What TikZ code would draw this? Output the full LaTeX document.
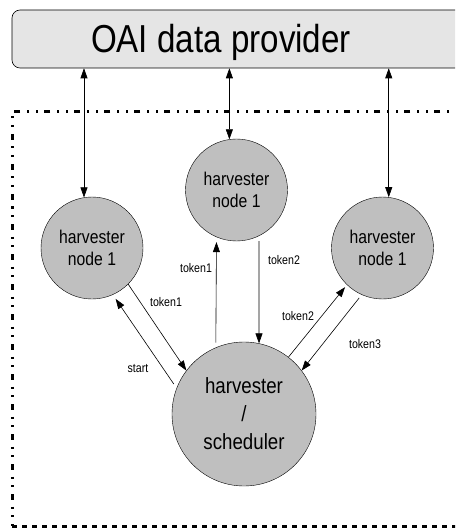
\documentclass[tikz,border=0pt]{standalone}
\usepackage{fontspec}
\setmainfont{Liberation Sans}[FakeStretch=0.85]
\usepackage {tikz}
\usetikzlibrary {arrows.meta}

\begin{document}
\begin{tikzpicture}[x=1pt ,y=-1pt ,semithick ,
    >={Triangle[length=10pt ,width=7pt]} ,
    provider/.style ={rectangle ,rounded corners =8pt ,draw ,
    fill =black!10 ,minimum width =458pt ,minimum height =58pt} ,
    harvester/.style ={circle ,draw ,fill =black!25 ,thin ,
    minimum size =102pt ,align =center ,
    font =\fontsize{18.5}{22}\selectfont} ,
    scheduler/.style ={harvester ,minimum size =144pt ,
    font =\fontsize{22}{28}\selectfont} ,
    msg/.style ={font =\fontsize{12.5}{14}\selectfont ,inner sep =0pt} ,
    link/.style ={->} ,
    frame/.style ={line width =3pt}
    ]
\clip (0,0) rectangle (455,529);

\node[provider] (prov) at (241,39) {};
\node[anchor =base ,font =\fontsize{39}{44}\selectfont] (provtext) at (221,53) {OAI data provider};

% group of harvesters
\draw[frame ,dash pattern =on 6pt off 6.5pt on 2pt off 6.5pt on 2pt off 7pt]
    (470,112) -- (12,112) -- (12,526);
\draw[frame ,dash pattern =on 5pt off 5pt] (12,526) -- (470,526);

\node[harvester] (hl) at (92,248)    {harvester\\node 1};
\node[harvester] (hm) at (236.5,190) {harvester\\node 1};
\node[harvester] (hr) at (382.5,248) {harvester\\node 1};
\node[scheduler] (sched) at (244,414) {harvester\\/\\scheduler};

\draw[<->] (hl.99) -- (hl.99 |- prov.south);
\draw[<->] (hm.98) -- (hm.98 |- prov.south);
\draw[<->] (hr.83) -- (hr.83 |- prov.south);

\draw[link] (hl.-45) -- (sched.143);
\draw[link ,shorten <=5pt ,shorten >=5pt] (sched.159) -- (hl.-66);
\draw[link ,shorten <=5pt ,shorten >=5pt] (sched.113) -- (hm.-113);
\draw[link ,shorten <=5pt] (hm.-64) -- (sched.78);
\draw[link ,shorten >=3pt] (sched.52) -- (hr.-134);
\draw[link ,shorten <=4pt] (hr.-114) -- (sched.37);

\node[msg] (t1l) at (166,302) {token1};
\node[msg] (st)  at (138,369) {start};
\node[msg] (t1m) at (196,268) {token1};
\node[msg] (t2m) at (284,260) {token2};
\node[msg] (t2r) at (298,316) {token2};
\node[msg] (t3r) at (365,344) {token3};
\end{tikzpicture}
\end{document}
